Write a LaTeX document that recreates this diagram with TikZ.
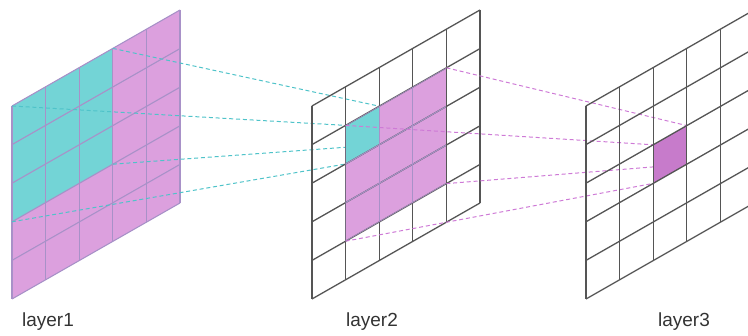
\documentclass[tikz,border=0pt]{standalone}
\usepackage{fontspec}
\setsansfont{Liberation Sans}
\usepackage{tikz}
\usetikzlibrary{positioning}
\usepackage{xcolor}
\definecolor{cyanfill}{HTML}{73D4D6}
\definecolor{pinkfill}{HTML}{DCA0DE}
\definecolor{cellfill}{HTML}{C77BCB}
\definecolor{gridc}{HTML}{555555}
\definecolor{softgrid}{HTML}{A891C8}
\definecolor{cyanline}{HTML}{4FC3C9}
\definecolor{pinkline}{HTML}{CE7AD6}
\tikzset{
  plane/.style={x={(33.6pt,19.2pt)}, y={(0pt,-38.6pt)}},
  darkgrid/.style={draw=gridc, line width=1.3pt},
  softlines/.style={draw=softgrid, line width=1.1pt},
  cyanlink/.style={draw=cyanline, dash pattern=on 4pt off 2.8pt, line width=1pt},
  pinklink/.style={draw=pinkline, dash pattern=on 4pt off 2.8pt, line width=1pt},
  layerlabel/.style={font=\sffamily\fontsize{19}{19}\selectfont, text=black!80,
              anchor=base, inner sep=0pt},
}

\begin{document}
\begin{tikzpicture}[x=1pt, y=-1pt]
\useasboundingbox (0,0) rectangle (748,336);
\clip (0,0) rectangle (748,336);

% corner points of the receptive fields
\begin{scope}[shift={(12,106)}, plane]
  \coordinate (a-tl) at (0,0);
  \coordinate (a-tr) at (3,0);
  \coordinate (a-br) at (3,3);
  \coordinate (a-bl) at (0,3);
\end{scope}
\begin{scope}[shift={(312,106)}, plane]
  \coordinate (b-tl) at (1,1);
  \coordinate (b-tr) at (2,1);
  \coordinate (b-br) at (2,2);
  \coordinate (b-bl) at (1,2);
  \coordinate (p-tl) at (1,1);
  \coordinate (p-tr) at (4,1);
  \coordinate (p-br) at (4,4);
  \coordinate (p-bl) at (1,4);
\end{scope}
\begin{scope}[shift={(586,106)}, plane]
  \coordinate (c-tl) at (2,2);
  \coordinate (c-tr) at (3,2);
  \coordinate (c-br) at (3,3);
  \coordinate (c-bl) at (2,3);
\end{scope}

% layer1
\begin{scope}[shift={(12,106)}, plane]
  \fill[pinkfill] (0,0) -- (5,0) -- (5,5) -- (0,5) -- cycle;
  \fill[cyanfill] (0,0) -- (3,0) -- (3,3) -- (0,3) -- cycle;
  \foreach \k in {0,...,5} {
    \draw[softlines] (\k,0) -- (\k,5);
    \draw[softlines] (0,\k) -- (5,\k);
  }
\end{scope}

\draw[cyanlink] (a-tr) -- (b-tr);
\draw[cyanlink] (a-tl) -- (b-tl);
\draw[cyanlink] (a-br) -- (b-br);
\draw[cyanlink] (a-bl) -- (b-bl);

% layer2
\begin{scope}[shift={(312,106)}, plane]
  \fill[pinkfill] (p-tl) -- (p-tr) -- (p-br) -- (p-bl) -- cycle;
  \fill[cyanfill] (b-tl) -- (b-tr) -- (b-br) -- (b-bl) -- cycle;
  \foreach \k in {0,...,5} {
    \draw[darkgrid] (\k,0) -- (\k,5);
    \draw[darkgrid] (0,\k) -- (5,\k);
  }
  \begin{scope}
    \clip (p-tl) -- (p-tr) -- (p-br) -- (p-bl) -- cycle;
    \foreach \k in {1,...,4} {
      \draw[softlines] (\k,1) -- (\k,4);
      \draw[softlines] (1,\k) -- (4,\k);
    }
  \end{scope}
\end{scope}

\draw[pinklink] (p-tr) -- (c-tr);
\draw[pinklink] (p-tl) -- (c-tl);
\draw[pinklink] (p-br) -- (c-br);
\draw[pinklink] (p-bl) -- (c-bl);

% layer3
\begin{scope}[shift={(586,106)}, plane]
  \fill[cellfill] (c-tl) -- (c-tr) -- (c-br) -- (c-bl) -- cycle;
  \foreach \k in {0,...,5} {
    \draw[darkgrid] (\k,0) -- (\k,5);
    \draw[darkgrid] (0,\k) -- (5,\k);
  }
\end{scope}

\node[layerlabel] (lab1) at (48,327) {layer1};
\node[layerlabel] (lab2) at (372,327) {layer2};
\node[layerlabel] (lab3) at (684,327) {layer3};
\end{tikzpicture}
\end{document}
